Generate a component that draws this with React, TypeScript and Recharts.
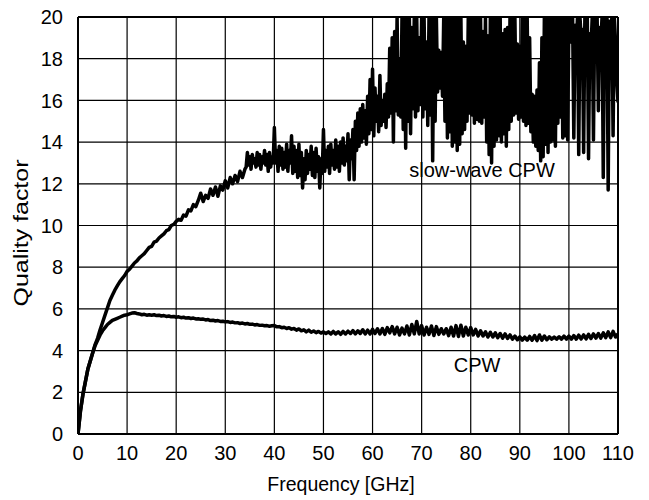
import React from 'react';
import { LineChart, Line, XAxis, YAxis, CartesianGrid, ReferenceLine, ReferenceDot } from 'recharts';

const FREQ_TICKS = [0, 10, 20, 30, 40, 50, 60, 70, 80, 90, 100, 110];
const Q_TICKS = [0, 2, 4, 6, 8, 10, 12, 14, 16, 18, 20];

// CPW quality factor, f = 0 .. 110 GHz, step 0.5 GHz
const CPW_STEP = 0.5;
const cpwQ = [
  0, 1.1, 1.9, 2.5, 3.1, 3.5, 3.9, 4.25, 4.5, 4.75,
  4.95, 5.1, 5.25, 5.35, 5.45, 5.5, 5.55, 5.6, 5.65, 5.7,
  5.72, 5.76, 5.8, 5.82, 5.78, 5.76, 5.72, 5.74, 5.7, 5.72,
  5.7, 5.72, 5.68, 5.7, 5.66, 5.68, 5.64, 5.66, 5.62, 5.64,
  5.6, 5.62, 5.58, 5.6, 5.56, 5.58, 5.54, 5.56, 5.52, 5.53,
  5.5, 5.51, 5.47, 5.49, 5.44, 5.46, 5.42, 5.44, 5.4, 5.41,
  5.38, 5.39, 5.35, 5.37, 5.33, 5.34, 5.3, 5.32, 5.28, 5.3,
  5.26, 5.27, 5.23, 5.25, 5.21, 5.22, 5.19, 5.2, 5.17, 5.19,
  5.2, 5.14, 5.15, 5.1, 5.12, 5.06, 5.1, 5.03, 5.06, 4.98,
  5.04, 4.95, 5.0, 4.9, 4.98, 4.88, 4.94, 4.86, 4.92, 4.84,
  4.9, 4.82, 4.9, 4.8, 4.92, 4.8, 4.9, 4.78, 4.92, 4.8,
  4.93, 4.82, 4.96, 4.8, 4.95, 4.82, 5.0, 4.8, 4.98, 4.8,
  5.02, 4.82, 5.05, 4.8, 5.06, 4.78, 5.1, 4.85, 5.15, 4.8,
  5.12, 4.75, 5.08, 4.8, 5.18, 4.75, 5.25, 4.8, 5.4, 4.8,
  5.2, 4.75, 5.12, 4.78, 5.18, 4.72, 5.15, 4.78, 5.05, 4.8,
  5.05, 4.72, 5.12, 4.7, 5.2, 4.68, 5.22, 4.7, 5.12, 4.75,
  5.1, 4.75, 5.02, 4.7, 4.95, 4.7, 4.9, 4.65, 4.88, 4.65,
  4.85, 4.62, 4.82, 4.6, 4.8, 4.58, 4.75, 4.55, 4.7, 4.52,
  4.66, 4.5, 4.65, 4.5, 4.68, 4.5, 4.72, 4.48, 4.75, 4.5,
  4.7, 4.52, 4.66, 4.55, 4.65, 4.55, 4.66, 4.55, 4.7, 4.55,
  4.7, 4.55, 4.72, 4.55, 4.74, 4.56, 4.75, 4.56, 4.78, 4.58,
  4.8, 4.6, 4.82, 4.6, 4.85, 4.62, 4.9, 4.62, 4.92, 4.65,
  4.8,
];

// slow-wave CPW quality factor, f = 0 .. 34 GHz, step 0.5 GHz
const SW_COARSE_STEP = 0.5;
const swCoarseQ = [
  0, 1.1, 1.9, 2.5, 3.1, 3.5, 3.9, 4.3, 4.6, 5.0,
  5.35, 5.7, 6.05, 6.4, 6.65, 6.9, 7.1, 7.3, 7.45, 7.6,
  7.8, 7.9, 8.05, 8.2, 8.3, 8.45, 8.55, 8.65, 8.8,
  8.95, 9.0, 9.2, 9.25, 9.4, 9.5, 9.6, 9.75, 9.8, 10.0,
  10.05, 10.2, 10.3, 10.25, 10.5, 10.45, 10.75, 10.7, 11.0, 10.9,
  11.2, 11.55, 11.15, 11.45, 11.3, 11.75, 11.45, 11.85, 11.4, 11.9,
  11.7, 12.15, 11.8, 12.3, 12.0, 12.4, 12.1, 12.6, 12.3, 12.7,
];

// slow-wave CPW quality factor, f = 34.25 .. 110 GHz, step 0.25 GHz
const SW_FINE_START = 34.25;
const SW_FINE_STEP = 0.25;
const swFineQ = [
  12.8, 13.5, 12.9, 13.3,
  12.7, 13.4, 13.0, 13.2,
  12.8, 13.5, 12.9, 13.4,
  12.7, 13.3, 13.0, 13.6,
  12.9, 13.4, 12.6, 13.5,
  12.8, 13.3, 13.0, 14.7,
  13.0, 13.6, 12.6, 13.8,
  12.9, 13.7, 12.7, 13.5,
  12.8, 13.9, 12.6, 13.6,
  13.0, 14.3, 12.5, 13.8,
  12.6, 13.6, 12.3, 13.9,
  12.4, 13.5, 11.8, 13.2,
  12.2, 13.6, 12.5, 13.4,
  12.7, 13.8, 12.4, 13.5,
  12.3, 13.7, 12.6, 13.3,
  11.8, 13.2, 12.5, 14.6,
  12.6, 13.6, 12.8, 13.8,
  12.5, 13.9, 12.9, 13.6,
  12.7, 14.1, 12.8, 13.8,
  12.6, 14.0, 13.0, 14.2,
  12.9, 13.8, 13.1, 14.4,
  12.2, 14.1, 13.2, 14.6,
  12.2, 15.0, 13.6, 15.4,
  13.8, 15.6, 14.0, 15.8,
  14.2, 15.5, 13.9, 16.2,
  14.4, 17.0, 14.6, 17.5,
  14.3, 16.6, 15.0, 16.2,
  14.5, 17.2, 14.8, 16.0,
  15.0, 16.3, 14.7, 16.8,
  15.2, 18.5, 15.4, 19.0,
  14.0, 19.3, 15.5, 20.0,
  15.3, 18.0, 15.2, 20.0,
  14.6, 20.0, 13.7, 20.0,
  15.0, 20.0, 14.4, 19.5,
  15.6, 20.0, 15.2, 20.0,
  15.5, 19.0, 15.8, 20.0,
  15.2, 20.0, 15.6, 18.8,
  14.8, 20.0, 15.3, 20.0,
  13.1, 20.0, 15.0, 20.0,
  16.4, 18.4, 16.6, 18.3,
  16.2, 20.0, 15.0, 20.0,
  14.2, 20.0, 14.5, 20.0,
  13.8, 20.0, 14.0, 20.0,
  13.6, 20.0, 13.9, 20.0,
  14.4, 18.8, 14.6, 18.6,
  15.0, 20.0, 15.4, 20.0,
  15.3, 20.0, 14.9, 20.0,
  15.1, 20.0, 15.0, 20.0,
  14.9, 19.3, 15.2, 20.0,
  14.0, 19.1, 13.4, 20.0,
  13.0, 20.0, 13.8, 20.0,
  14.1, 20.0, 14.3, 20.0,
  14.0, 19.2, 14.4, 19.4,
  13.8, 19.5, 14.6, 20.0,
  15.0, 20.0, 15.3, 20.0,
  15.4, 18.7, 15.1, 18.6,
  15.2, 20.0, 15.0, 20.0,
  14.8, 20.0, 14.9, 19.0,
  14.5, 16.3, 14.0, 16.2,
  13.8, 16.5, 13.6, 17.8,
  13.1, 19.0, 13.3, 20.0,
  13.9, 20.0, 13.5, 20.0,
  14.0, 20.0, 14.1, 20.0,
  13.8, 20.0, 14.9, 20.0,
  15.2, 20.0, 14.2, 20.0,
  14.3, 20.0, 14.1, 20.0,
  20.0, 18.8, 20.0, 14.2,
  19.6, 18.6, 20.0, 13.4,
  20.0, 19.0, 19.4, 13.5,
  20.0, 18.7, 20.0, 13.2,
  19.2, 18.5, 20.0, 14.1,
  20.0, 18.9, 20.0, 15.5,
  19.5, 18.7, 20.0, 12.3,
  20.0, 18.6, 20.0, 11.7,
  19.8, 18.4, 20.0, 14.3,
  20.0, 18.8, 17.0, 15.9,
];

const cpwData = cpwQ.map((q, i) => ({ f: i * CPW_STEP, q }));
const slowWaveData = [
  ...swCoarseQ.map((q, i) => ({ f: i * SW_COARSE_STEP, q })),
  ...swFineQ.map((q, i) => ({ f: SW_FINE_START + i * SW_FINE_STEP, q })),
];

const FONT = '"Liberation Sans", Arial, Helvetica, sans-serif';

function YTitle() {
  const cx = 21;
  const cy = 233;
  return (
    <text
      x={cx}
      y={cy}
      transform={`rotate(-90, ${cx}, ${cy})`}
      textAnchor="middle"
      dominantBaseline="central"
      fontSize={20}
      fontFamily={FONT}
      fill="#000"
      textLength={147}
      lengthAdjust="spacingAndGlyphs"
    >
      Quality factor
    </text>
  );
}

export default function App() {
  return (
    <div style={{ position: 'absolute', left: 0, top: 0, width: 649, height: 500, background: '#fff' }}>
      <LineChart
        width={649}
        height={500}
        margin={{ top: 17, right: 31, left: 0, bottom: 0 }}
        style={{ fontFamily: FONT }}
      >
        <CartesianGrid stroke="#000" strokeWidth={1.2} horizontalValues={Q_TICKS} verticalValues={FREQ_TICKS} />
        <XAxis
          type="number"
          dataKey="f"
          domain={[0, 110]}
          ticks={FREQ_TICKS}
          allowDataOverflow
          height={66}
          tickSize={0}
          tickMargin={12}
          axisLine={{ stroke: '#000', strokeWidth: 2 }}
          tick={{ fill: '#000', fontSize: 20, fontFamily: FONT }}
          label={{ value: 'Frequency [GHz]', position: 'insideBottom', offset: 9, dx: -7, fill: '#000', fontSize: 19.5, fontFamily: FONT }}
        />
        <YAxis
          type="number"
          domain={[0, 20]}
          ticks={Q_TICKS}
          allowDataOverflow
          width={78}
          tickSize={0}
          tickMargin={15}
          axisLine={{ stroke: '#000', strokeWidth: 2 }}
          tick={{ fill: '#000', fontSize: 20, fontFamily: FONT }}
          label={<YTitle />}
        />
        <ReferenceLine y={20} stroke="#000" strokeWidth={2} />
        <ReferenceLine x={110} stroke="#000" strokeWidth={2} />
        <Line
          data={cpwData}
          dataKey="q"
          stroke="#000"
          strokeWidth={3.5}
          dot={false}
          activeDot={false}
          isAnimationActive={false}
          strokeLinejoin="round"
        />
        <Line
          data={slowWaveData}
          dataKey="q"
          stroke="#000"
          strokeWidth={3.5}
          dot={false}
          activeDot={false}
          isAnimationActive={false}
          strokeLinejoin="round"
        />
        <ReferenceDot
          x={82.3}
          y={12.66}
          r={0}
          fill="none"
          stroke="none"
          label={{ value: 'slow-wave CPW', position: 'center', fill: '#000', fontSize: 20, fontFamily: FONT }}
        />
        <ReferenceDot
          x={81.3}
          y={3.33}
          r={0}
          fill="none"
          stroke="none"
          label={{ value: 'CPW', position: 'center', fill: '#000', fontSize: 20, fontFamily: FONT }}
        />
      </LineChart>
    </div>
  );
}
